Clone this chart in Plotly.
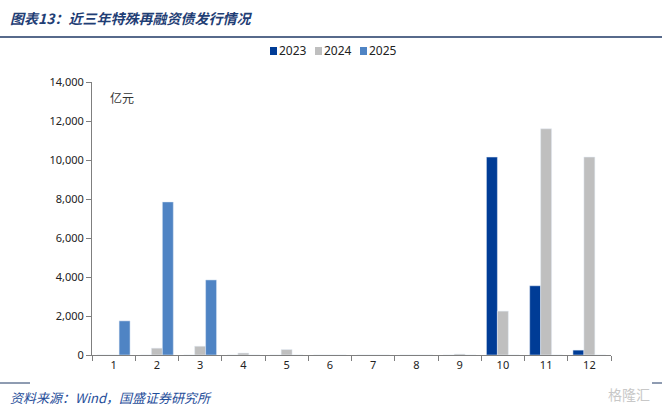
import plotly.graph_objects as go

months = [str(m) for m in range(1, 13)]
y2023 = [0, 0, 0, 0, 0, 0, 0, 0, 0, 10150, 3550, 250]
y2024 = [0, 350, 450, 100, 280, 0, 0, 0, 50, 2250, 11600, 10150]
y2025 = [1750, 7850, 3850, 0, 0, 0, 0, 0, 0, 0, 0, 0]
yticks = list(range(0, 14001, 2000))
series = ["2023", "2024", "2025"]
colors = {"2023": "#003C96", "2024": "#BFBFBF", "2025": "#4F84C4"}

W, H = 662, 411
L, R, T, B = 92, 51, 82, 56
pw, ph = W - L - R, H - T - B


def px(x):
    return (x - L) / pw


def py(y):
    return (H - B - y) / ph


fig = go.Figure()
for name, vals in zip(series, [y2023, y2024, y2025]):
    fig.add_trace(go.Bar(name=name, x=months, y=vals, marker_color=colors[name]))

tick_font = dict(family="Noto Sans, Liberation Sans, sans-serif", size=11, color="#222222")

fig.update_layout(
    width=W, height=H,
    margin=dict(l=L, r=R, t=T, b=B, autoexpand=False),
    paper_bgcolor="white", plot_bgcolor="white",
    barmode="group", bargap=0.24, bargroupgap=0,
    showlegend=False,
    xaxis=dict(type="category", showline=True, linecolor="#7F7F7F", linewidth=1,
               ticks="outside", tickson="boundaries", ticklen=5, tickcolor="#7F7F7F",
               tickfont=tick_font, showgrid=False, zeroline=False),
    yaxis=dict(range=[0, 14000], tickvals=yticks, tickformat=",d", showline=True,
               linecolor="#7F7F7F", linewidth=1, ticks="outside", ticklen=5,
               tickcolor="#7F7F7F", tickfont=tick_font, showgrid=False, zeroline=False),
    font=dict(family="Noto Sans CJK SC, sans-serif"),
)

# compact legend like the original: small square + label
for i, name in enumerate(series):
    x0 = 270 + i * 45
    fig.add_shape(type="rect", xref="paper", yref="paper", x0=px(x0), x1=px(x0 + 7),
                  y0=py(55), y1=py(47), fillcolor=colors[name], line=dict(width=0))
    fig.add_annotation(x=px(x0 + 7), y=py(51), xref="paper", yref="paper", xanchor="left",
                       yanchor="middle", showarrow=False, text=name,
                       font=dict(family="Noto Sans, sans-serif", size=12, color="#222222"))

fig.add_annotation(x=px(8), y=py(18), xref="paper", yref="paper", xanchor="left",
                   yanchor="middle", showarrow=False,
                   text="<b>图表13：近三年特殊再融资债发行情况</b>",
                   font=dict(family="Noto Sans CJK SC", size=14, color="#1F3E75", style="italic"))
fig.add_shape(type="line", xref="paper", yref="paper", x0=px(0), x1=px(W), y0=py(37), y1=py(37),
              line=dict(color="#1F3864", width=1.5))
fig.add_annotation(x=px(108), y=py(97), xref="paper", yref="paper", xanchor="left",
                   yanchor="middle", showarrow=False, text="亿元",
                   font=dict(family="Noto Sans CJK SC", size=12, color="#333333"))
fig.add_shape(type="line", xref="paper", yref="paper", x0=px(0), x1=px(30), y0=py(383), y1=py(383),
              line=dict(color="#1F3864", width=1))
fig.add_shape(type="line", xref="paper", yref="paper", x0=px(652), x1=px(W), y0=py(383), y1=py(383),
              line=dict(color="#1F3864", width=1))
fig.add_annotation(x=px(8), y=py(397), xref="paper", yref="paper", xanchor="left",
                   yanchor="middle", showarrow=False, text="资料来源：Wind，国盛证券研究所",
                   font=dict(family="Noto Sans CJK SC", size=13, color="#1F4E9A", style="italic"))
fig.add_annotation(x=px(652), y=py(394), xref="paper", yref="paper", xanchor="right",
                   yanchor="middle", showarrow=False, text="格隆汇",
                   font=dict(family="Noto Sans CJK SC", size=14, color="#C8C8C8"))

# drop the default body margin so the figure sits at the page corner
fig.write_html("out.html", config={"displayModeBar": False},
               post_script="document.body.style.margin='0';")
